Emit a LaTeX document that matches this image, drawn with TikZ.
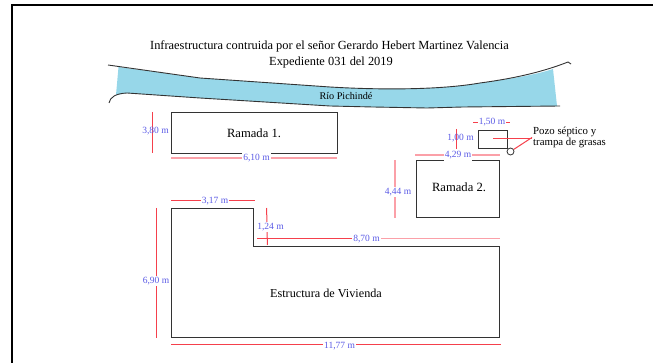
\documentclass[tikz,border=0pt]{standalone}
\usepackage{fontspec}
\setmainfont{Liberation Serif}
\definecolor{riverblue}{HTML}{97D7E9}
\definecolor{dimblue}{HTML}{5A5AE6}
\definecolor{dimred}{HTML}{F5404C}
\definecolor{dimpink}{HTML}{FBA0A8}
\definecolor{wallgrey}{HTML}{333333}
\tikzset{
  wall/.style={draw=wallgrey,line width=0.9pt,fill=white},
  dimline/.style={draw=dimred,line width=1pt},
  dimpale/.style={draw=dimpink,line width=1.7pt},
  dimtext/.style={font=\fontsize{9.5}{10}\selectfont,text=dimblue,fill=white,inner sep=1.2pt},
  roomtext/.style={font=\fontsize{12.6}{14}\selectfont,text=black,inner sep=0pt},
  titletext/.style={font=\fontsize{12.4}{14}\selectfont,text=black,inner sep=0pt},
  notetext/.style={font=\fontsize{10.8}{11}\selectfont,text=black,inner sep=0pt,align=left,anchor=west},
  bank/.style={draw=wallgrey,line width=0.9pt},
}
\begin{document}
\begin{tikzpicture}[x=1pt,y=-1pt]
\useasboundingbox (0,0) rectangle (653,363);
% frame
\draw[black,line width=2pt] (11.5,363) -- (11.5,5.5) -- (653,5.5);
% titles
\node[titletext] (title1) at (329.5,46) {Infraestructura contruida por el señor Gerardo Hebert Martinez Valencia};
\node[titletext] (title2) at (331,62.5) {Expediente 031 del 2019};
% river
\fill[riverblue] (118.5,67) -- (200,78) -- (330,87) .. controls (380,90) and (440,90) .. (480,83) .. controls (510,79) and (535,75) .. (553,69)
  -- (557,106) -- (463,107) -- (427,108) -- (373,107) -- (330,106) -- (200,98) -- (127,93) -- (116,95) -- cycle;
\draw[bank] (108,65) -- (200,78) -- (330,87) .. controls (380,90) and (440,90) .. (480,83) .. controls (510,79) and (540,73) .. (568,62) -- (571,64);
\draw[bank] (109,103) .. controls (110,97) and (116,93.5) .. (127,93) -- (200,98) -- (330,106) -- (373,107) -- (427,108) -- (463,107) -- (560,106);
\node[font=\fontsize{10.2}{12}\selectfont,inner sep=0pt] (river) at (346,96.5) {Río Pichindé};
% Ramada 1
\node[wall,minimum width=166pt,minimum height=41pt,anchor=north west] (r1) at (171,112) {};
\node[roomtext] (r1t) at (254,133.5) {Ramada 1.};
\coordinate (a1) at (152.6,112); \coordinate (a2) at (152.6,153);
\draw[dimline] (a1) -- (a2);
\node[dimtext,fill opacity=0,text opacity=1] (d380) at (155.5,131.5) {3,80 m};
\coordinate (b1) at (171,158.2); \coordinate (b2) at (337,158.2);
\draw[dimpale] (b1) -- (b2);
\node[dimtext] (d610) at (256.5,158.5) {6,10 m};
% Ramada 2
\node[wall,minimum width=83pt,minimum height=57pt,anchor=north west] (r2) at (416,160) {};
\node[roomtext] (r2t) at (459,187.5) {Ramada 2.};
\coordinate (c1) at (395.2,160); \coordinate (c2) at (395.2,218);
\draw[dimpale] (c1) -- (c2);
\node[dimtext] (d444) at (398,192) {4,44 m};
\coordinate (e1) at (415,155.2); \coordinate (e2) at (500,155.2);
\draw[dimpale] (e1) -- (e2);
\node[dimtext] (d429) at (458,155.5) {4,29 m};
% septic tank
\node[wall,minimum width=29pt,minimum height=18.5pt,anchor=north west] (tank) at (478,130) {};
\node[circle,draw=wallgrey,line width=0.8pt,minimum size=7pt,inner sep=0pt] (trap) at (510.5,151.5) {};
\coordinate (f1) at (473,122.3); \coordinate (f2) at (510,122.3);
\draw[dimline] (f1) -- (f2);
\node[dimtext] (d150) at (492,122.5) {1,50 m};
\coordinate (g1) at (456.5,129); \coordinate (g2) at (456.5,149);
\draw[dimline] (g1) -- (g2);
\node[dimtext,fill opacity=0,text opacity=1] (d100) at (460.5,138.5) {1,00 m};
\node[notetext] (note) at (533,137.5) {Pozo séptico y\\trampa de grasas};
\coordinate (h1) at (493,138.2); \coordinate (h2) at (532,138.2); \coordinate (h3) at (532,137.5);
\draw[dimline] (h1) -- (h2);
\draw[dimline] (trap) -- (h3);
% house
\coordinate (p1) at (171,208); \coordinate (p2) at (253,208); \coordinate (p3) at (253,246);
\coordinate (p4) at (499,246); \coordinate (p5) at (499,337); \coordinate (p6) at (171,337);
\draw[wall] (p1) -- (p2) -- (p3) -- (p4) -- (p5) -- (p6) -- cycle;
\node[roomtext,font=\fontsize{12.2}{14}\selectfont] (houset) at (326,293) {Estructura de Vivienda};
\coordinate (i1) at (171,200.7); \coordinate (i2) at (255,200.7);
\draw[dimline] (i1) -- (i2);
\node[dimtext] (d317) at (215,201) {3,17 m};
\coordinate (j1) at (266.6,208); \coordinate (j2) at (267.4,245);
\draw[dimline] (j1) -- (j2);
\node[dimtext] (d124) at (270.5,227) {1,24 m};
\coordinate (k1) at (257,238.5); \coordinate (k2) at (500,238.5);
\draw[dimline] (k1) -- (366,238.5);
\draw[dimpale] (366,238.5) -- (k2);
\node[dimtext] (d870) at (366.5,239) {8,70 m};
\coordinate (l1) at (156.5,208); \coordinate (l2) at (156.5,338);
\draw[dimline] (l1) -- (l2);
\node[dimtext] (d690) at (156,281) {6,90 m};
\coordinate (m1) at (171,344.5); \coordinate (m2) at (501,344.5);
\draw[dimline] (m1) -- (m2);
\node[dimtext] (d1177) at (339.5,346.5) {11,77 m};
\end{tikzpicture}
\end{document}
